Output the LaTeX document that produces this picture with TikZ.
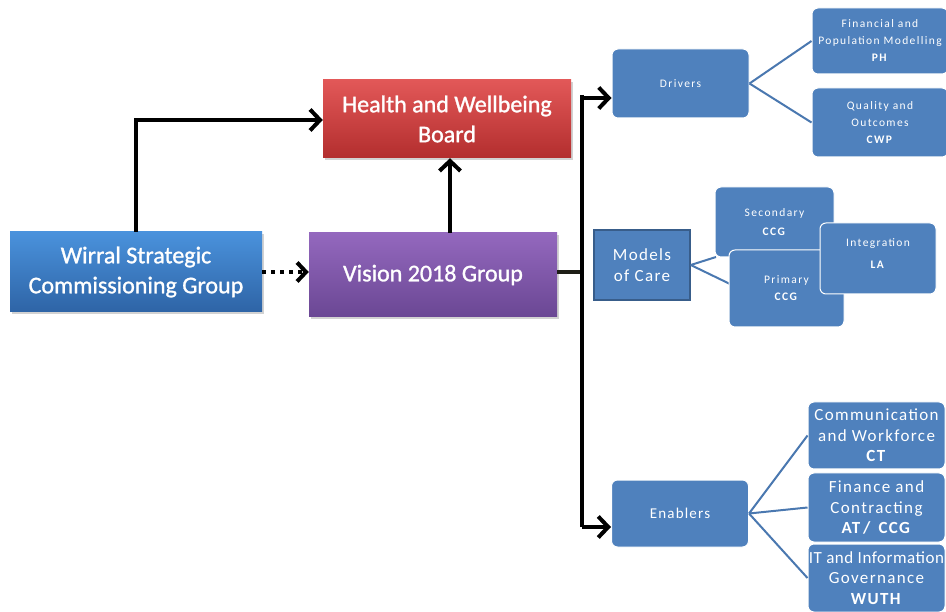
\documentclass[tikz,border=0pt]{standalone}
\usepackage{fontspec}
\setmainfont{Carlito}
\newfontfamily\mainboxfont[FakeBold=1.2]{Carlito}
\newfontfamily\spacedfont[LetterSpace=12]{Carlito}
\newfontfamily\midfont[LetterSpace=8]{Carlito}
\newfontfamily\narrowfont[LetterSpace=3]{Carlito}
\usetikzlibrary{arrows.meta,shadows,calc}
\definecolor{boxblue}{HTML}{4F81BD}
\definecolor{lineblue}{HTML}{4A78B0}
\definecolor{boxedge}{HTML}{385D8A}
\definecolor{blueTop}{HTML}{4A92DC}
\definecolor{blueBot}{HTML}{2E64A6}
\definecolor{redTop}{HTML}{E25858}
\definecolor{redBot}{HTML}{B32E2E}
\definecolor{purTop}{HTML}{9468BE}
\definecolor{purBot}{HTML}{6A4794}
\definecolor{darkline}{HTML}{1E1E16}
\tikzset{
  mainbox/.style={rectangle, inner sep=0pt, text=white, align=center,
    font=\mainboxfont\fontsize{24}{30}\selectfont,
    drop shadow={shadow xshift=2pt, shadow yshift=-2pt, opacity=0.35}},
  bluebox/.style={rectangle, rounded corners=6pt, fill=boxblue, draw=white,
    line width=1pt, text=white, align=center, inner sep=0pt},
  tinytext/.style={font=\spacedfont\fontsize{11.5}{17}\selectfont},
  medtext/.style={font=\midfont\fontsize{17}{20.5}\selectfont},
  arr/.style={line width=4pt, draw=black, -{Straight Barb[length=10pt,width=21pt]}},
  blk/.style={line width=4pt, draw=black},
  conn/.style={line width=2pt, draw=lineblue},
}
\begin{document}
\begin{tikzpicture}[x=1pt, y=-1pt]
\useasboundingbox (0,0) rectangle (946,612);
\fill[white] (0,0) rectangle (946,612);

% main boxes
\node[mainbox, top color=blueTop, bottom color=blueBot, minimum width=252pt, minimum height=80pt]
  (wirral) at (136,272) {Wirral Strategic\\Commissioning Group};
\node[mainbox, top color=redTop, bottom color=redBot, minimum width=248pt, minimum height=78pt]
  (hwb) at (447,119) {Health and Wellbeing\\Board};
\node[mainbox, top color=purTop, bottom color=purBot, minimum width=248pt, minimum height=84pt]
  (vision) at (433,275) {Vision 2018 Group};

% junction coordinates
\coordinate (jt) at (582,98);
\coordinate (jb) at (582,527);
\coordinate (jm) at (582,272);
\coordinate (jtop) at (582,95);

% connectors between main boxes
\draw[arr] (wirral.north) |- (hwb.west |- 0,120);
\draw[arr] (vision.north -| 450,0) -- (hwb.south -| 450,0);
\draw[line width=4pt, dash pattern=on 4pt off 5pt, -{Straight Barb[length=9pt,width=19pt]}]
  (wirral.east |- jm) -- (vision.west |- jm);
\draw[line width=4.5pt, draw=darkline] (vision.east |- jm) -- (jm);
\draw[blk] (jtop) -- (jb);

% right-side boxes
\node[bluebox, minimum width=137pt, minimum height=69pt, tinytext] (drivers) at (680.5,83.5) {Drivers};
\node[bluebox, minimum width=137pt, minimum height=67pt, font=\midfont\fontsize{15}{18}\selectfont]
  (enab) at (680,513.5) {Enablers};

\draw[arr] (jt) -- (jt -| drivers.west);
\draw[arr] (jb) -- (jb -| enab.west);

\node[rectangle, fill=boxblue, draw=boxedge, line width=1.5pt, minimum width=96pt, minimum height=70pt,
  text=white, align=center, inner sep=0pt, font=\midfont\fontsize{17}{21}\selectfont]
  (models) at (642,265) {Models\\of Care};

% drivers children
\node[bluebox, minimum width=136pt, minimum height=66pt, tinytext] (fin) at (880,41)
  {Financial and\\Population Modelling\\\textbf{PH}};
\node[bluebox, minimum width=136pt, minimum height=69pt, tinytext] (qual) at (880,122.5)
  {Quality and\\Outcomes\\\textbf{CWP}};
\draw[conn] (drivers.east) -- (fin.west);
\draw[conn] (drivers.east) -- (qual.west);

% models of care children
\coordinate (secend) at (716,257);
\coordinate (primend) at (730,284);
\draw[conn] (models.east) -- (secend);
\draw[conn] (models.east) -- (primend);
\node[bluebox, minimum width=119pt, minimum height=70pt, tinytext] (sec) at (774.5,222)
  {\raisebox{2pt}{Secondary}\\\textbf{CCG}};
\node[bluebox, minimum width=115pt, minimum height=77pt, tinytext] (prim) at (786.5,288.5)
  {Primary\\\textbf{CCG}};
\node[bluebox, minimum width=116pt, minimum height=71pt, font=\spacedfont\fontsize{11.5}{22}\selectfont]
  (integ) at (878,258.5) {\raisebox{9pt}{Integration}\\\raisebox{9pt}{\textbf{LA}}};

% enablers children
\node[bluebox, minimum width=137pt, minimum height=67pt, medtext] (comm) at (876.5,435.5)
  {Communication\\and Workforce\\\textbf{CT}};
\node[bluebox, minimum width=137pt, minimum height=69pt, medtext] (finc) at (876.5,507.5)
  {Finance and\\Contracting\\\textbf{AT\,/\, CCG}};
\node[bluebox, minimum width=137pt, minimum height=68pt, medtext] (it) at (876.5,578)
  {{\narrowfont IT and Information}\\Governance\\\textbf{WUTH}};
\draw[conn] (enab.east) -- (comm.west);
\draw[conn] (enab.east) -- (finc.west);
\draw[conn] (enab.east) -- (it.west);
\end{tikzpicture}
\end{document}
